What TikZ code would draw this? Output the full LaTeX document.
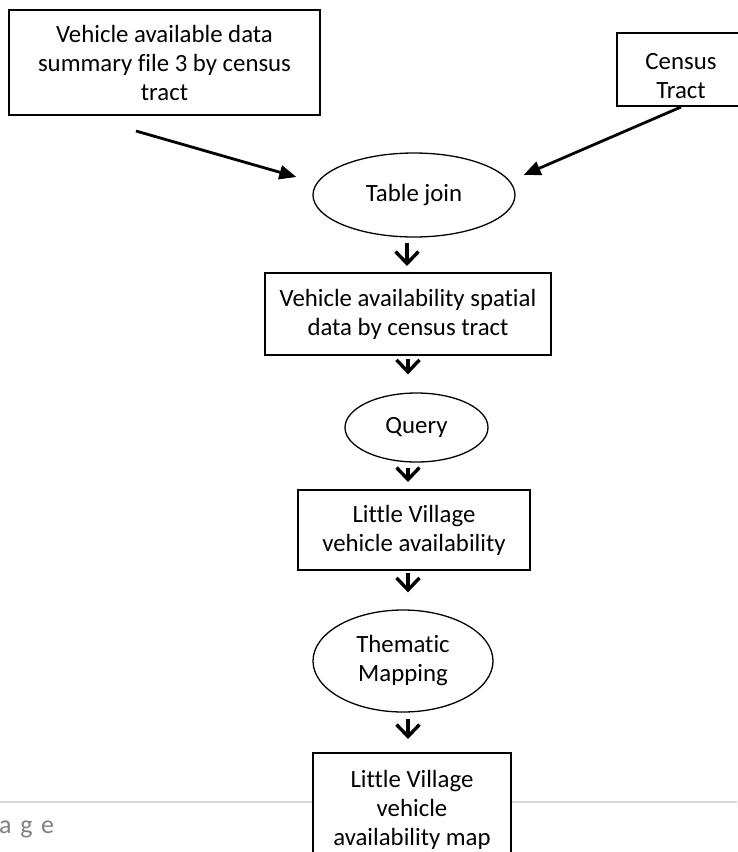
\documentclass[tikz,border=0pt]{standalone}
\usepackage{fontspec}
\setmainfont{Carlito}[Ligatures=NoCommon]
\usetikzlibrary{arrows.meta,shapes.geometric}
\begin{document}
\begin{tikzpicture}[x=1pt,y=-1pt,
  every node/.style={font=\fontsize{24.8}{29}\selectfont, align=center, inner sep=0pt},
  boxnode/.style={draw, line width=2pt, fill=white, rectangle},
  ellnode/.style={draw, line width=1.3pt, ellipse},
  darr/.style={line width=3.2pt, -{Straight Barb[length=12pt,width=23pt,line width=3.4pt]}},
  diag/.style={line width=2.8pt, -{Triangle[length=17pt,width=14pt]}}]
\useasboundingbox (0,0) rectangle (737,852);
% footer rule and page text
\draw[line width=2pt, color=black!15] (0,802) -- (737,802);
\node[anchor=west, text=black!50, font=\fontsize{26}{30}\selectfont] (pg) at (-1,829) {a\,\,g\,\,e};
% nodes
\node[boxnode, minimum width=311pt, minimum height=105pt] (box1) at (164.5,62.5)
  {Vehicle available data\\summary file 3 by census\\tract};
\node[boxnode, minimum width=128pt, minimum height=73pt] (census) at (681,69.5) {};
\node (censustxt) at (681,76) {Census\\Tract};
\node[ellnode, minimum width=202pt, minimum height=84pt] (tj) at (414,195) {Table join};
\node[boxnode, minimum width=286pt, minimum height=82pt] (sp) at (408,314)
  {Vehicle availability spatial\\data by census tract};
\node[ellnode, minimum width=143pt, minimum height=69pt] (q) at (416.5,427.5) {Query};
\node[boxnode, minimum width=232pt, minimum height=80pt] (lv) at (414,530)
  {Little Village\\vehicle availability};
\node[ellnode, minimum width=180pt, minimum height=102pt] (tm) at (403,661)
  {Thematic\\Mapping};
\node[boxnode, minimum width=198pt, minimum height=114pt] (fm) at (412,810)
  {Little Village\\vehicle\\availability map};
% connectors
\draw[diag] ([xshift=-28.5pt,yshift=-15pt]box1.south) -- ([xshift=-16pt,yshift=18pt]tj.west);
\draw[diag] (census.south) -- ([xshift=8pt,yshift=20pt]tj.east);
\draw[darr] ([xshift=-7pt,yshift=-5pt]tj.south) -- ([xshift=-1pt,yshift=6pt]sp.north);
\draw[darr] ([yshift=-3pt]sp.south) -- ([xshift=-8.5pt,yshift=18pt]q.north);
\draw[darr] ([xshift=-8.5pt,yshift=-5pt]q.south) -- ([xshift=-6pt,yshift=7pt]lv.north);
\draw[darr] ([xshift=-6pt,yshift=-2pt]lv.south) -- ([xshift=5pt,yshift=17pt]tm.north);
\draw[darr] ([xshift=5pt,yshift=-6pt]tm.south) -- ([xshift=-4pt,yshift=13pt]fm.north);
\end{tikzpicture}
\end{document}
